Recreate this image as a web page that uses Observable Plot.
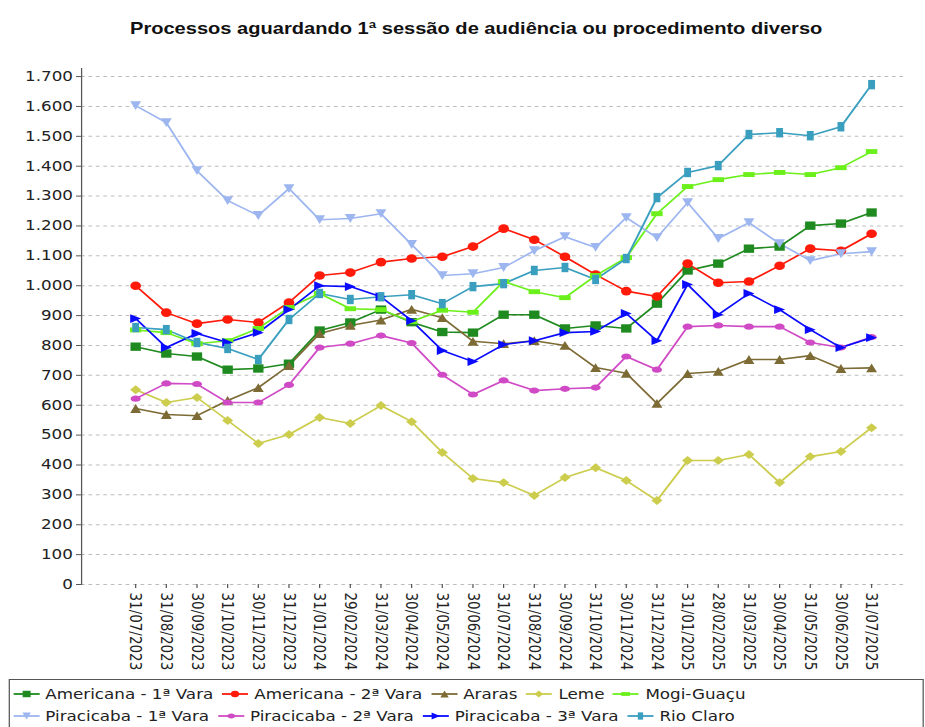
<!DOCTYPE html>
<html><head><meta charset="utf-8">
<script src="https://cdn.jsdelivr.net/npm/d3@7"></script>
<script src="https://cdn.jsdelivr.net/npm/@observablehq/plot@0.6"></script>
<style>
html,body{margin:0;padding:0;background:#fff;}
#wrap{position:relative;width:746px;height:727px;transform:scaleX(1.24);transform-origin:0 0;}
#title{position:absolute;left:22px;width:724px;top:18.5px;line-height:16px;text-align:center;font:bold 16.2px "Liberation Sans",Arial,sans-serif;color:#111;white-space:nowrap;}
#chart{position:absolute;left:0;top:0;}
#legend{position:absolute;left:6.5px;top:679px;width:738px;height:60px;border:1px solid #555;box-sizing:border-box;padding-top:3px;font:13.5px "DejaVu Sans",sans-serif;color:#222;}
.row{display:flex;align-items:center;height:22px;padding-left:3px;white-space:nowrap;}
.item{display:flex;align-items:center;margin-right:7px;}
.item svg{margin-right:5px;overflow:visible;}
</style></head>
<body><div id="wrap"><div id="title">Processos aguardando 1ª sessão de audiência ou procedimento diverso</div><div id="chart"></div><div id="legend"></div></div>
<script>
const dates = ["31/07/2023","31/08/2023","30/09/2023","31/10/2023","30/11/2023","31/12/2023","31/01/2024","29/02/2024","31/03/2024","30/04/2024","31/05/2024","30/06/2024","31/07/2024","31/08/2024","30/09/2024","31/10/2024","30/11/2024","31/12/2024","31/01/2025","28/02/2025","31/03/2025","30/04/2025","31/05/2025","30/06/2025","31/07/2025"];
const seriesNames = ["Americana - 1ª Vara","Americana - 2ª Vara","Araras","Leme","Mogi-Guaçu","Piracicaba - 1ª Vara","Piracicaba - 2ª Vara","Piracicaba - 3ª Vara","Rio Claro"];
const americana1 = [796,773,763,719,723,739,850,877,920,878,845,843,903,903,857,867,857,940,1051,1074,1124,1131,1201,1208,1245];
const americana2 = [1000,910,873,887,877,944,1034,1044,1079,1091,1097,1131,1191,1154,1097,1037,982,964,1074,1010,1014,1067,1124,1117,1174];
const araras = [589,569,565,616,659,733,840,867,885,921,893,814,806,816,800,726,707,606,706,713,753,753,766,723,725];
const leme = [652,609,626,549,472,502,559,539,599,545,442,355,341,298,358,391,348,281,415,415,435,341,428,445,525];
const mogiGuacu = [852,843,806,816,857,927,974,923,920,880,918,911,1014,980,960,1034,1094,1241,1332,1355,1372,1379,1372,1395,1449];
const piracicaba1 = [1603,1546,1385,1285,1235,1325,1221,1225,1241,1138,1034,1040,1061,1117,1164,1128,1228,1161,1278,1158,1211,1141,1084,1107,1114];
const piracicaba2 = [622,673,671,609,609,668,793,806,833,808,702,636,683,649,655,659,763,719,863,867,863,863,810,793,828];
const piracicaba3 = [890,793,840,810,843,920,1000,997,963,883,783,746,803,816,843,847,907,816,1004,903,974,920,853,793,826];
const rioClaro = [860,853,810,790,753,887,974,954,963,970,940,997,1007,1051,1061,1021,1091,1295,1379,1402,1506,1512,1502,1532,1673];
const yTicks = [0,100,200,300,400,500,600,700,800,900,1000,1100,1200,1300,1400,1500,1600,1700];

const seriesValues = [americana1, americana2, araras, leme, mogiGuacu, piracicaba1, piracicaba2, piracicaba3, rioClaro];
const colors = ["#1f8a1f","#ff1a0a","#7d6b35","#cccc4d","#6cf01c","#9db6f0","#d04ac6","#0a0aff","#3a9fbf"];

// marker shapes (custom symbols)
const sym = f => ({draw(ctx, size){ const k = Math.sqrt(size / Math.PI); f(ctx, k); }});
const poly = (c, pts) => { c.moveTo(pts[0][0], pts[0][1]); for (let i = 1; i < pts.length; i++) c.lineTo(pts[i][0], pts[i][1]); c.closePath(); };
const shapes = [
  sym((c,k)=>{const h=0.95*k; poly(c,[[-h,-h],[h,-h],[h,h],[-h,h]]);}),
  sym((c,k)=>{const r=0.98*k; c.moveTo(r,0); c.arc(0,0,r,0,2*Math.PI); c.closePath();}),
  sym((c,k)=>poly(c,[[0,-k],[k,k],[-k,k]])),
  sym((c,k)=>{const h=1.02*k; poly(c,[[0,-h],[h,0],[0,h],[-h,0]]);}),
  sym((c,k)=>{const w=1.05*k,h=0.56*k; poly(c,[[-w,-h],[w,-h],[w,h],[-w,h]]);}),
  sym((c,k)=>poly(c,[[0,k],[k,-k],[-k,-k]])),
  sym((c,k)=>{const a=0.93*k,b=0.7*k,m=0.5523; c.moveTo(a,0); c.bezierCurveTo(a,b*m,a*m,b,0,b); c.bezierCurveTo(-a*m,b,-a,b*m,-a,0); c.bezierCurveTo(-a,-b*m,-a*m,-b,0,-b); c.bezierCurveTo(a*m,-b,a,-b*m,a,0); c.closePath();}),
  sym((c,k)=>poly(c,[[k,0],[-k,-k],[-k,k]])),
  sym((c,k)=>{const w=0.63*k,h=1.07*k; poly(c,[[-w,-h],[w,-h],[w,h],[-w,h]]);})
];

const rows = seriesNames.flatMap((name, s) => dates.map((date, i) => ({series: name, date, value: seriesValues[s][i]})));
const fmt = d3.formatLocale({decimal: ",", thousands: ".", grouping: [3], currency: ["R$", ""]}).format(",d");

const lineMarks = seriesNames.map((name, s) => Plot.line(rows.filter(d => d.series === name), {x: "date", y: "value", stroke: colors[s], strokeWidth: 1.6}));
const dotMarks = seriesNames.map((name, s) => Plot.dot(rows.filter(d => d.series === name), {x: "date", y: "value", fill: colors[s], symbol: shapes[s], r: 4.4}));

const chart = Plot.plot({
  width: 746, height: 674,
  marginLeft: 65.3, marginRight: 16, marginTop: 68, marginBottom: 90,
  style: {fontFamily: '"DejaVu Sans", sans-serif', fontSize: "13.5px", color: "#222", background: "transparent", overflow: "visible"},
  x: {type: "point", domain: dates, range: [108.9, 702.4], padding: 0, round: false},
  y: {domain: [0, 1727]},
  marks: [
    Plot.gridY(yTicks, {stroke: "#bdbdbd", strokeOpacity: 1, strokeDasharray: "3,3", strokeWidth: 1}),
    Plot.frame({anchor: "left", stroke: "#555"}),
    Plot.axisY(yTicks, {tickFormat: fmt, tickSize: 4, tickPadding: 3, label: null, stroke: "#555"}),
    Plot.axisX({tickRotate: 90, tickSize: 4, tickPadding: 4, label: null, stroke: "#555"}),
    ...lineMarks,
    ...dotMarks
  ]
});
document.getElementById("chart").appendChild(chart);

// legend
const legend = document.getElementById("legend");
const rowsLayout = [[0,1,2,3,4],[5,6,7,8]];
const ns = "http://www.w3.org/2000/svg";
for (const r of rowsLayout) {
  const rowEl = document.createElement("div"); rowEl.className = "row";
  for (const s of r) {
    const item = document.createElement("div"); item.className = "item";
    const sv = document.createElementNS(ns, "svg"); sv.setAttribute("width", 21); sv.setAttribute("height", 12);
    const ln = document.createElementNS(ns, "line");
    ln.setAttribute("x1", 0); ln.setAttribute("x2", 21); ln.setAttribute("y1", 6); ln.setAttribute("y2", 6);
    ln.setAttribute("stroke", colors[s]); ln.setAttribute("stroke-width", 1.8);
    sv.appendChild(ln);
    const p = d3.path(); shapes[s].draw(p, Math.PI * 3.4 * 3.4);
    const pa = document.createElementNS(ns, "path");
    pa.setAttribute("d", p.toString()); pa.setAttribute("fill", colors[s]); pa.setAttribute("transform", "translate(10.5,6)");
    sv.appendChild(pa);
    const tx = document.createElement("span"); tx.textContent = seriesNames[s];
    item.appendChild(sv); item.appendChild(tx);
    rowEl.appendChild(item);
  }
  legend.appendChild(rowEl);
}
</script>
</body></html>
